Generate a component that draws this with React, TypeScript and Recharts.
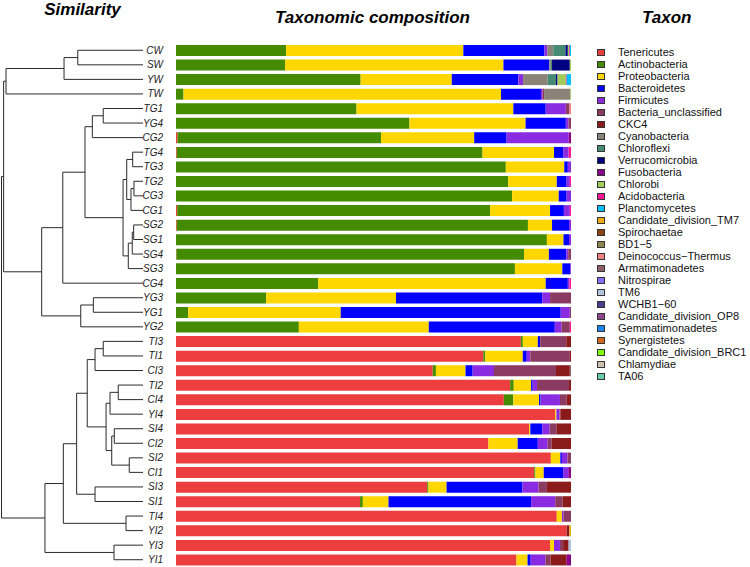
import React from 'react';
import { BarChart, Bar, XAxis, YAxis, Legend, ScatterChart, Scatter, ReferenceLine } from 'recharts';

// ---------- categories ----------
const samples = ['CW', 'SW', 'YW', 'TW', 'TG1', 'YG4', 'CG2', 'TG4', 'TG3', 'TG2', 'CG3', 'CG1', 'SG2', 'SG1', 'SG4', 'SG3', 'CG4', 'YG3', 'YG1', 'YG2', 'TI3', 'TI1', 'CI3', 'TI2', 'CI4', 'YI4', 'SI4', 'CI2', 'SI2', 'CI1', 'SI3', 'SI1', 'TI4', 'YI2', 'YI3', 'YI1'];

const taxa = ['Tenericutes', 'Actinobacteria', 'Proteobacteria', 'Bacteroidetes', 'Firmicutes', 'Bacteria_unclassified', 'CKC4', 'Cyanobacteria', 'Chloroflexi', 'Verrucomicrobia', 'Fusobacteria', 'Chlorobi', 'Acidobacteria', 'Planctomycetes', 'Candidate_division_TM7', 'Spirochaetae', 'BD1\u22125', 'Deinococcus\u2212Thermus', 'Armatimonadetes', 'Nitrospirae', 'TM6', 'WCHB1\u221260', 'Candidate_division_OP8', 'Gemmatimonadetes', 'Synergistetes', 'Candidate_division_BRC1', 'Chlamydiae', 'TA06'];

const taxonColors = ['#EC3E3E', '#458B00', '#FFD700', '#0000FF', '#8A2BE2', '#8B3A62', '#8B1A1A', '#8B8378', '#458B74', '#000080', '#8B008B', '#A2CD5A', '#FF1493', '#00BFFF', '#EEAD0E', '#8B4513', '#8B864E', '#F08080', '#8B5F65', '#8470FF', '#B0C4DE', '#483D8B', '#8B4789', '#1C86EE', '#D2691E', '#7FFF00', '#CDC0B0', '#66CDAA'];

// ---------- series values (percent, in sample order) ----------
const tenericutes = [0, 0, 0, 0, 0, 0, 0.4, 0.2, 0, 0, 0, 0.3, 0.2, 0, 0.1, 0, 0, 0, 0, 0, 87.3, 77.8, 65.0, 84.6, 83.0, 96.0, 89.4, 79.1, 94.9, 90.7, 63.6, 46.6, 96.4, 98.9, 94.7, 86.2];
const actinobacteria = [27.8, 27.6, 46.6, 1.9, 45.7, 59.1, 51.5, 77.4, 83.5, 84.1, 85.1, 79.2, 88.9, 93.9, 88.0, 85.8, 36.0, 22.8, 3.1, 31.1, 0.5, 0.5, 0.8, 0.9, 2.4, 0, 0, 0, 0, 0.3, 0.3, 0.7, 0, 0, 0, 0];
const proteobacteria = [44.8, 55.3, 23.0, 80.3, 39.7, 29.4, 23.6, 18.1, 14.8, 12.3, 11.8, 15.2, 6.1, 4.2, 6.3, 12.0, 57.6, 32.9, 38.6, 32.9, 3.8, 9.5, 7.5, 4.4, 6.5, 0.3, 0.3, 7.4, 2.4, 2.1, 4.6, 6.5, 1.3, 0, 1.0, 2.8];
const bacteroidetes = [20.5, 11.6, 16.8, 10.1, 8.2, 10.2, 8.2, 2.3, 0.9, 2.5, 2.0, 3.5, 4.3, 1.4, 4.4, 2.0, 5.6, 37.0, 55.7, 31.9, 0.6, 1.0, 1.8, 0.4, 0.4, 0, 3.0, 5.1, 0.4, 4.9, 19.2, 36.1, 0, 0, 0, 0.8];
const firmicutes = [0.7, 0, 1.2, 0.4, 5.1, 0.7, 15.7, 1.4, 0.8, 0.8, 1.1, 1.5, 0.5, 0.5, 0.5, 0.2, 0.4, 2.0, 2.3, 1.7, 0, 0.9, 5.4, 1.1, 4.9, 0.8, 1.9, 2.5, 1.4, 1.3, 4.1, 6.1, 0.4, 0, 1.5, 3.7];
const bacteriaUnclassified = [0, 0, 0, 0.4, 0.9, 0.6, 0, 0, 0, 0, 0, 0, 0, 0, 0.7, 0, 0, 5.3, 0.3, 2.1, 6.6, 10.0, 15.7, 8.1, 1.7, 0.2, 1.7, 1.0, 0.9, 0, 2.1, 1.9, 1.9, 0, 0.8, 1.3];
const ckc4 = [0, 0, 0, 0, 0, 0, 0, 0, 0, 0, 0, 0, 0, 0, 0, 0, 0, 0, 0, 0, 1.2, 0.3, 3.5, 0.5, 1.1, 2.7, 3.7, 4.9, 0, 0, 6.1, 2.1, 0, 0.7, 1.4, 4.1];

// minor taxa: values only for the samples where they are visible
const cyanobacteria = { CW: 1.5, SW: 0.4, YW: 6.2, TW: 6.6 };
const chloroflexi = { CW: 3.1, SW: 0.3, YW: 2.1 };
const verrucomicrobia = { CW: 0.6, SW: 4.5, YW: 0.4 };
const fusobacteria = { CG2: 0.6, CI1: 0.7, YI1: 1.1 };
const chlorobi = { CW: 0.3, SW: 0.3, YW: 2.1, TW: 0.2 };
const acidobacteria = { CW: 0.2, YW: 0.2, TG4: 0.6, TG2: 0.3, CG1: 0.3, CG4: 0.4, YG2: 0.3 };
const planctomycetes = { CW: 0.3, YW: 1.1 };
const candidateTM7 = { YI2: 0.4 };
const deinococcus = { TG1: 0.4 };
const armatimonadetes = { CI3: 0.3 };
const tm6 = { YI3: 0.6 };
const none = {};

const taxonValues: (number[] | Record<string, number>)[] = [
  tenericutes, actinobacteria, proteobacteria, bacteroidetes, firmicutes, bacteriaUnclassified, ckc4,
  cyanobacteria, chloroflexi, verrucomicrobia, fusobacteria, chlorobi, acidobacteria, planctomycetes,
  candidateTM7, none, none, deinococcus, armatimonadetes, none, tm6, none, none, none, none, none, none, none,
];

// ---------- dendrogram (merge heights) ----------
type Node = string | [Node, Node, number];
const clusterW: Node = [[['CW', 'SW', 0.461], 'YW', 0.558], 'TW', 0.968];
const clusterG: Node = [
  [
    [
      [['TG1', 'YG4', 0.281], 'CG2', 0.358],
      [
        [['TG4', 'TG3', 0.073], [['TG2', 'CG3', 0.064], 'CG1', 0.085], 0.115],
        [[['SG2', 'SG1', 0.066], 'SG4', 0.076], 'SG3', 0.104],
        0.141,
      ],
      0.410,
    ],
    'CG4',
    0.567,
  ],
  [['YG3', 'YG1', 0.351], 'YG2', 0.440],
  0.716,
];
const clusterI: Node = [
  [
    [
      [
        [['TI3', 'TI1', 0.281], 'CI3', 0.339],
        [
          [['TI2', 'CI4', 0.175], 'YI4', 0.233],
          [['SI4', 'CI2', 0.203], ['SI2', 'CI1', 0.097], 0.221],
          0.261,
        ],
        0.394,
      ],
      ['SI3', 'SI1', 0.339],
      0.469,
    ],
    ['TI4', 'YI2', 0.120],
    0.563,
  ],
  ['YI3', 'YI1', 0.205],
  0.693,
];
const tree: Node = [[clusterW, clusterG, 0.985], clusterI, 1.0];

// ---------- derived structures ----------
const rows = samples.map((s, i) => {
  const r: Record<string, any> = { sample: s };
  taxa.forEach((t, k) => {
    const v = taxonValues[k];
    r[t] = Array.isArray(v) ? v[i] : (v as Record<string, number>)[s] ?? 0;
  });
  return r;
});

type Seg = { x1: number; y1: number; x2: number; y2: number };
const segments: Seg[] = [];
function layout(n: Node): { y: number; h: number } {
  if (typeof n === 'string') return { y: samples.indexOf(n), h: 0 };
  const a = layout(n[0]);
  const b = layout(n[1]);
  const h = n[2];
  segments.push({ x1: a.h, y1: a.y, x2: h, y2: a.y });
  segments.push({ x1: b.h, y1: b.y, x2: h, y2: b.y });
  segments.push({ x1: h, y1: a.y, x2: h, y2: b.y });
  return { y: (a.y + b.y) / 2, h };
}
layout(tree);
const leaves = samples.map((s, i) => ({ h: 0, idx: i }));

const FONT = '"Liberation Sans", Arial, sans-serif';
const TOP = 43;
const H = 567;

const renderLegend = (props: any) => {
  const payload = [...(props.payload || [])].sort(
    (a: any, b: any) => taxa.indexOf(a.value) - taxa.indexOf(b.value)
  );
  return (
    <div style={{ fontFamily: FONT, fontSize: 11, color: '#111' }}>
      {payload.map((p: any) => (
        <div key={p.value} style={{ display: 'flex', alignItems: 'center', height: 12, whiteSpace: 'nowrap' }}>
          <span style={{ display: 'inline-block', width: 8, height: 7, boxSizing: 'border-box', background: p.color, border: '1px solid #333', marginRight: 13 }} />
          <span style={{ lineHeight: '12px' }}>{p.value}</span>
        </div>
      ))}
    </div>
  );
};

export default function App() {
  return (
    <div style={{ position: 'absolute', left: 0, top: 0, width: 750, height: H, background: '#fff', overflow: 'hidden' }}>
      <div style={{ position: 'absolute', left: 0, top: 0 }}>
        <ScatterChart width={750} height={H} margin={{ top: TOP, right: 607, bottom: 0, left: 1.5 }}>
          <XAxis type="number" dataKey="h" domain={[0, 1]} reversed hide />
          <YAxis type="number" dataKey="idx" domain={[-0.5, 35.5]} reversed hide />
          <Scatter data={leaves} isAnimationActive={false} shape={() => <g />} />
          {segments.map((s, i) => (
            <ReferenceLine
              key={i}
              segment={[{ x: s.x1, y: s.y1 }, { x: s.x2, y: s.y2 }]}
              stroke="#2a2a2a"
              strokeWidth={1}
              ifOverflow="visible"
            />
          ))}
        </ScatterChart>
      </div>
      <div style={{ position: 'absolute', left: 0, top: 0 }}>
        <BarChart
          layout="vertical"
          width={750}
          height={H}
          data={rows}
          stackOffset="expand"
          barSize={11}
          margin={{ top: TOP, right: 179, bottom: 0, left: 0 }}
        >
          <XAxis type="number" domain={[0, 1]} hide />
          <YAxis
            type="category"
            dataKey="sample"
            width={176}
            interval={0}
            tickLine={false}
            axisLine={false}
            tickSize={0}
            tickMargin={13}
            tick={{ fontSize: 10, fontStyle: 'italic', fill: '#222', fontFamily: FONT }}
          />
          {taxa.map((t, k) => (
            <Bar key={t} dataKey={t} stackId="a" fill={taxonColors[k]} isAnimationActive={false} />
          ))}
          <Legend
            layout="vertical"
            align="center"
            verticalAlign="middle"
            itemSorter={null as any}
            content={renderLegend}
            wrapperStyle={{ position: 'absolute', left: 597, top: 46, width: 150, height: 'auto' }}
          />
        </BarChart>
      </div>
      <svg width={750} height={40} style={{ position: 'absolute', left: 0, top: 0, pointerEvents: 'none' }}>
        <g fontFamily={FONT} fontWeight="bold" fontStyle="italic" fontSize={17} fill="#000">
          <text x={82.5} y={14.5} textAnchor="middle">Similarity</text>
          <text x={372.5} y={23} textAnchor="middle">Taxonomic composition</text>
          <text x={642} y={23}>Taxon</text>
        </g>
      </svg>
    </div>
  );
}
